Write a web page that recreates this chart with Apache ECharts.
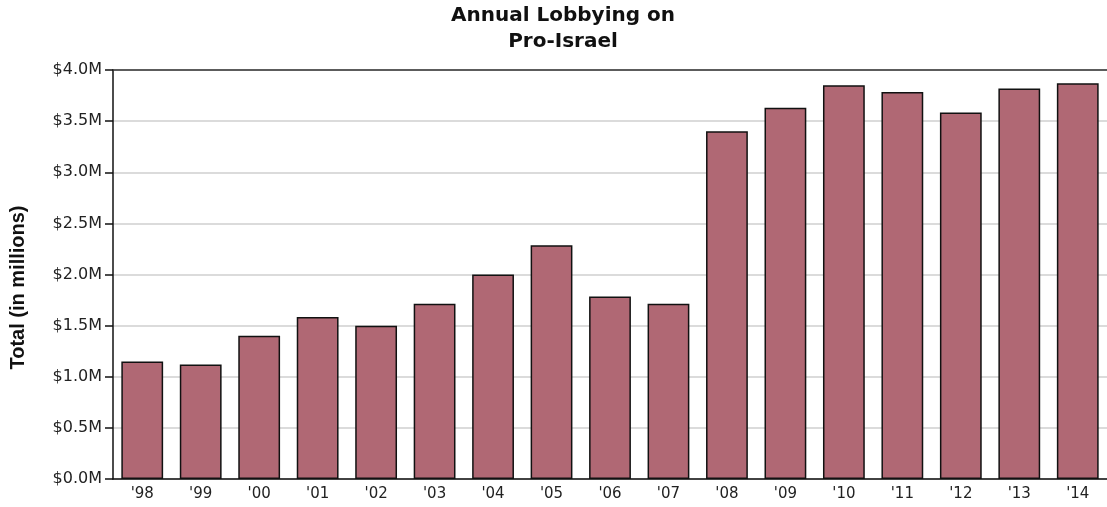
<!DOCTYPE html>
<html>
<head>
<meta charset="utf-8">
<script src="https://cdn.jsdelivr.net/npm/echarts@6/dist/echarts.min.js"></script>
<style>
  html, body { margin: 0; padding: 0; background: #fff; overflow: hidden; }
  #chart { width: 1107px; height: 507px; }
</style>
</head>
<body>
<div id="chart"></div>
<script>
var years = ["'98", "'99", "'00", "'01", "'02", "'03", "'04", "'05", "'06", "'07", "'08", "'09", "'10", "'11", "'12", "'13", "'14"];
// total lobbying, millions of dollars
var totals = [1.15, 1.12, 1.40, 1.585, 1.50, 1.715, 2.00, 2.285, 1.785, 1.715, 3.40, 3.63, 3.85, 3.785, 3.585, 3.82, 3.87];
var yTicks = [0, 0.5, 1.0, 1.5, 2.0, 2.5, 3.0, 3.5, 4.0];

var myChart = echarts.init(document.getElementById('chart'));

option = {
    backgroundColor: '#fff',
    animation: false,
    title: {
        text: 'Annual Lobbying on\nPro-Israel',
        left: 558,
        textAlign: 'center',
        top: -2,
        textStyle: {
            fontFamily: 'DejaVu Sans',
            fontSize: 20,
            fontWeight: 'bold',
            color: '#111',
            lineHeight: 26
        }
    },
    grid: {
        left: 111,
        right: -5,
        top: 70,
        bottom: 28
    },
    xAxis: [{
        type: 'category',
        data: years,
        axisLine: { lineStyle: { color: '#111', width: 1.5 } },
        axisTick: { alignWithLabel: true, length: 7, lineStyle: { color: '#111', width: 1.5 } },
        axisLabel: {
            fontFamily: 'DejaVu Sans',
            fontSize: 15,
            color: '#222',
            margin: 8
        }
    }, {
        type: 'category',
        data: years,
        position: 'top',
        axisLine: { lineStyle: { color: '#333', width: 1.5 } },
        axisTick: { show: false },
        axisLabel: { show: false }
    }],
    yAxis: [{
        type: 'value',
        min: yTicks[0],
        max: yTicks[yTicks.length - 1],
        interval: 0.5,
        name: 'Total (in millions)',
        nameLocation: 'middle',
        nameGap: 85,
        nameTextStyle: {
            fontFamily: 'Liberation Sans',
            fontSize: 20,
            fontWeight: 'bold',
            color: '#111',
            padding: [0, 26, 0, 0]
        },
        axisLine: { show: true, lineStyle: { color: '#111', width: 1.5 } },
        axisTick: { show: true, length: 8, lineStyle: { color: '#111', width: 1.5 } },
        splitLine: { lineStyle: { color: '#cfcfcf', width: 1.5 } },
        axisLabel: {
            fontFamily: 'DejaVu Sans',
            fontSize: 16,
            color: '#222',
            margin: 11,
            formatter: function (v) { return '$' + v.toFixed(1) + 'M'; }
        }
    }],
    series: [{
        name: 'Total',
        type: 'bar',
        data: totals,
        barCategoryGap: '28.5%',
        itemStyle: {
            color: '#b06874',
            borderColor: '#111',
            borderWidth: 1.5
        }
    }]
};
myChart.setOption(option);
</script>
</body>
</html>
